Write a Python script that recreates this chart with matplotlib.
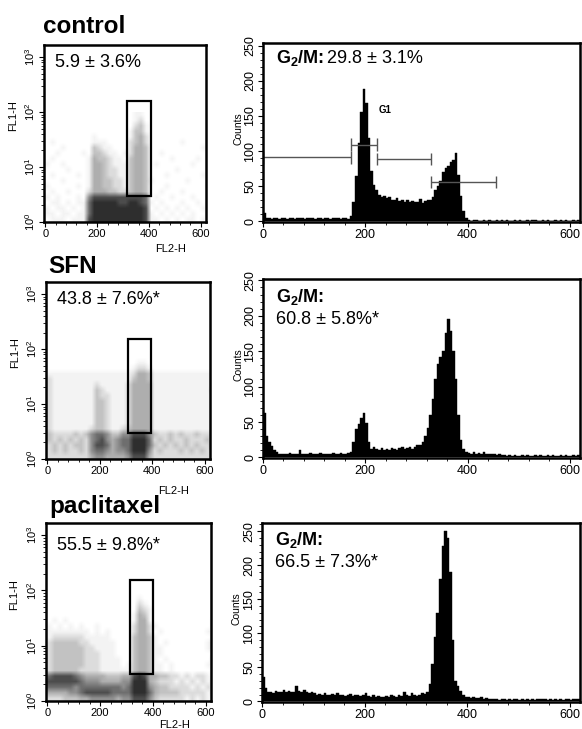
import numpy as np
import matplotlib
matplotlib.use('Agg')
import matplotlib.pyplot as plt
from matplotlib.patches import Rectangle
from matplotlib.ticker import MultipleLocator, LogLocator, NullFormatter, FixedLocator

plt.rcParams['font.family'] = ['Liberation Sans', 'DejaVu Sans']
plt.rcParams['mathtext.fontset'] = 'custom'
plt.rcParams['mathtext.rm'] = 'Liberation Sans'
plt.rcParams['mathtext.bf'] = 'Liberation Sans:bold'
plt.rcParams['mathtext.it'] = 'Liberation Sans:italic'

# ---------------- data ----------------
treatments = ['control', 'SFN', 'paclitaxel']
dot_labels = ['5.9 ± 3.6%', '43.8 ± 7.6%*', '55.5 ± 9.8%*']
g2m_values = ['29.8 ± 3.1%', '60.8 ± 5.8%*', '66.5 ± 7.3%*']

# gate rectangles of dot plots: FL2-H from/to, FL1-H from/to
gate_x0 = [315, 306, 314]
gate_x1 = [408, 396, 400]
gate_y0 = [3.0, 3.0, 3.06]
gate_y1 = [160, 152, 155]

# dot plot density (gray level index 0..8), rows from FL1-H 10^2.0 (top) down to 10^0,
# 0.1 decade per row; columns of 20 FL2-H units from 0 to 640
dots_control = [
    "000000000" "000000" "0" "0110" "000000000000",
    "000000000" "000000" "0" "0120" "000000000000",
    "000000000" "000000" "0" "0231" "000000000000",
    "000000000" "000000" "0" "1331" "000000000000",
    "000000000" "100000" "0" "1342" "000000000000",
    "010000000" "111000" "0" "2342" "000000100000",
    "000100000" "321100" "0" "2443" "000000000010",
    "001000010" "332110" "1" "2443" "001000000000",
    "010000001" "433211" "0" "3443" "000010000100",
    "100100001" "443211" "1" "3443" "010000001000",
    "000010001" "443221" "1" "3443" "000001000000",
    "010000101" "443221" "1" "3443" "000100000010",
    "000100001" "443322" "1" "3443" "100000010000",
    "100000101" "443322" "1" "3443" "000100000001",
    "010010002" "444332" "2" "3443" "001000100000",
    "101000105" "777777" "7" "7776" "010010001000",
    "011010116" "888887" "7" "8876" "101000100101",
    "101101016" "888888" "8" "8887" "010101010010",
    "110110116" "888888" "8" "8887" "101010101001",
    "011101117" "888888" "8" "8887" "110101011010",
]
dots_sfn = [
    "000000000" "000000" "0" "0000" "000000000000",
    "000000000" "000000" "0" "0000" "000000000000",
    "000000000" "000000" "0" "0110" "000000000000",
    "000000000" "000000" "0" "1221" "000000000000",
    "111111111" "111111" "1" "2443" "111111111111",
    "211111111" "111111" "1" "3443" "111111111111",
    "211111111" "211111" "2" "4444" "111111111111",
    "211111111" "321111" "2" "4444" "111111111112",
    "211111111" "322111" "2" "4444" "111111111111",
    "211111111" "332111" "2" "4444" "111111111111",
    "211111111" "332111" "2" "4444" "111111111111",
    "211111111" "332111" "2" "4444" "111111111111",
    "211111111" "332111" "2" "4444" "111111111111",
    "211111111" "332111" "2" "4444" "111111111111",
    "211111112" "332112" "3" "4444" "111111111111",
    "322223235" "665335" "5" "7775" "322323223222",
    "323232325" "675456" "6" "8886" "232322322232",
    "232323325" "776456" "6" "8886" "323232323223",
    "232322325" "665455" "6" "8885" "232223232322",
    "222222224" "554444" "5" "7774" "222222222222",
]
dots_paclitaxel = [
    "000000000" "000000" "0" "0000" "000000000000",
    "000000000" "000000" "0" "0100" "000000000000",
    "000000000" "000000" "0" "0210" "000000000000",
    "000000000" "000000" "0" "0321" "000000000000",
    "000000000" "000000" "0" "1431" "000000000000",
    "010100000" "000000" "0" "1441" "000000000001",
    "101010100" "100000" "0" "2442" "100000000001",
    "111111110" "101000" "0" "2442" "010000000011",
    "122222211" "111000" "0" "3443" "100000000001",
    "233333221" "111100" "0" "3443" "101000000012",
    "233333322" "111100" "0" "3443" "110000000012",
    "233333322" "211100" "0" "3443" "110000000001",
    "233333322" "211110" "0" "3443" "101000000002",
    "233333322" "211110" "1" "3443" "110100000011",
    "233333222" "211111" "1" "3443" "110100000001",
    "677776544" "443334" "4" "7874" "433221212211",
    "777777655" "544445" "5" "8884" "322212121212",
    "666665666" "666665" "6" "8885" "433222212121",
    "444455677" "777666" "6" "8886" "433332222212",
    "222333445" "555545" "5" "7775" "322222121211",
]
gray_levels = [1.0, 0.955, 0.86, 0.76, 0.68, 0.56, 0.43, 0.3, 0.18]

# DNA histograms: counts in FL2-H channels of width 5, starting at 0
hist_control = ([12, 5] +
    [4, 3, 5, 4, 3, 4, 5, 3, 4, 4, 3, 5, 4, 4, 3, 4, 5, 4, 3, 4, 4, 3, 5, 4, 3, 4, 4, 5, 3, 4, 4, 3] +
    [8, 28, 65, 112, 155, 188, 168, 118, 72, 52, 44, 38, 35, 36, 33, 34, 30, 31, 33, 29, 30, 28, 31, 27,
     29, 28, 27, 32, 26, 29, 30, 31, 35, 44, 50, 58, 70, 76, 79, 84, 88, 98, 66, 36, 14, 5] +
    [2, 1, 2, 2, 1, 1, 2, 1, 2, 1, 1, 2, 1, 2, 1, 2, 1, 1, 2, 1, 2, 1, 1, 2, 1, 2, 2, 1, 1, 2, 1, 2, 1, 1,
     2, 1, 2, 1, 2, 1, 1, 2, 1, 2])
hist_sfn = ([62, 30, 22, 16, 10, 7, 5] +
    [5, 4, 5, 6, 4, 5, 5, 10, 5, 4, 5, 6, 5, 4, 5, 6, 5, 4, 5, 5, 6, 4, 5, 6, 5, 5, 6] +
    [8, 22, 40, 47, 55, 62, 48, 22, 12] +
    [14, 12, 11, 13, 10, 12, 11, 13, 12, 11, 13, 14, 12, 13, 15, 12, 14, 17] +
    [17, 22, 30, 42, 60, 82, 110, 132, 142, 150, 175, 196, 178, 150, 110, 60, 25, 12, 7] +
    [6, 5, 7, 5, 6, 5, 7, 5, 4, 5, 4, 3, 4, 3, 3, 2, 3, 2, 3, 2, 2, 3, 2, 3, 2, 2, 3, 2, 3, 2, 2, 3, 2, 3,
     2, 2, 3, 2, 3, 2, 2, 3, 2, 3])
hist_paclitaxel = ([36, 20] +
    [13, 14, 12, 15, 13, 14, 16, 13, 15, 13, 14, 22, 15, 13, 16, 14, 12, 13] +
    [12, 10, 11, 9, 12, 10, 9, 11, 10, 12, 9, 10, 8, 9, 11, 8, 9, 10, 8, 9] +
    [12, 8, 7, 9, 6, 8, 7, 6, 8, 7, 9, 8, 7, 9, 8, 14, 9, 8, 12, 9, 8, 10, 12, 11] +
    [14, 25, 55, 95, 130, 180, 228, 250, 240, 190, 90, 30, 22, 15, 9, 6] +
    [6, 5, 6, 5, 5, 6, 4, 5, 3, 4, 3, 3, 2, 3, 3, 2, 3, 2, 3, 3, 2, 3, 2, 3, 2, 3, 2, 3, 3, 4, 3, 2, 3, 2,
     3, 2, 3, 2, 4, 3, 2, 3, 4, 3])

# cell-cycle marker bars in the control histogram
marker_start = [0, 172, 222, 328]
marker_end = [172, 222, 328, 455]
marker_level = [91, 109, 89, 56]

# ---------------- layout ----------------
W, H = 582, 729
fig = plt.figure(figsize=(W / 100, H / 100), dpi=100)

def rect(l, t, r, b):
    return [l / W, 1 - b / H, (r - l) / W, (b - t) / H]

dot_rects = [(44, 45, 206, 222), (46, 282, 210, 459), (46, 523, 211, 701)]
hist_rects = [(263, 43, 580, 222), (263, 279, 580, 458), (262, 523, 580, 702)]
title_pos = [(43, 33), (48, 273), (49, 513)]
hist_top = [254, 252, 262]
fl2_label_y = [-0.125, -0.15, -0.107]
dot_text_y = [0.9, 0.9, 0.876]
g2m_text_y = [0.89, 0.872, 0.877]
Y_TOP_DECADES = 3.22

dot_grids = [dots_control, dots_sfn, dots_paclitaxel]
hists = [hist_control, hist_sfn, hist_paclitaxel]

first_line_texts = []

for i in range(3):
    # ---- title
    fig.text(title_pos[i][0] / W, 1 - title_pos[i][1] / H, treatments[i],
             fontsize=17.5, fontweight='bold', ha='left', va='baseline')

    # ---- dot plot: density image on a log10-unit axis behind the log axis
    r = rect(*dot_rects[i])
    bg = fig.add_axes(r, zorder=0)
    grid = np.array([[gray_levels[int(c)] for c in row] for row in dot_grids[i]])
    bg.imshow(grid, cmap='gray', vmin=0, vmax=1, extent=(0, 640, 0, 2), origin='upper',
              aspect='auto', interpolation='bilinear')
    bg.set_xlim(-5, 620)
    bg.set_ylim(0, Y_TOP_DECADES)
    bg.axis('off')

    ax = fig.add_axes(r, zorder=1)
    ax.patch.set_alpha(0)
    ax.set_yscale('log')
    ax.set_xlim(-5, 620)
    ax.set_ylim(1, 10 ** Y_TOP_DECADES)
    ax.add_patch(Rectangle((gate_x0[i], gate_y0[i]), gate_x1[i] - gate_x0[i],
                           gate_y1[i] - gate_y0[i], fill=False, ec='black', lw=1.6, zorder=3))
    ax.xaxis.set_major_locator(FixedLocator([0, 200, 400, 600]))
    ax.xaxis.set_minor_locator(MultipleLocator(40))
    ax.yaxis.set_major_locator(LogLocator(base=10, numticks=10))
    ax.yaxis.set_minor_locator(LogLocator(base=10, subs=np.arange(2, 10), numticks=10))
    ax.yaxis.set_minor_formatter(NullFormatter())
    ax.tick_params(axis='both', which='major', labelsize=8, length=3.5, width=0.8, pad=1.5)
    ax.tick_params(axis='both', which='minor', length=2, width=0.6)
    ax.tick_params(axis='y', labelrotation=90)
    for lab in ax.get_yticklabels():
        lab.set_va('center')
    for s in ax.spines.values():
        s.set_linewidth(1.8)
    ax.set_ylabel('FL1-H', fontsize=8, labelpad=0)
    ax.yaxis.set_label_coords(-0.16, 0.6)
    ax.set_xlabel('FL2-H', fontsize=8)
    ax.xaxis.set_label_coords(0.78, fl2_label_y[i])
    ax.text(0.068, dot_text_y[i], dot_labels[i], transform=ax.transAxes,
            fontsize=13, ha='left', va='center', zorder=5)

    # ---- histogram
    hx = fig.add_axes(rect(*hist_rects[i]))
    vals = np.array(hists[i])
    edges = np.arange(0, 5 * len(vals) + 1, 5)
    hx.fill_between(edges, np.append(vals, vals[-1]), 0, step='post', color='black', lw=0.3)
    hx.set_xlim(0, 620)
    hx.set_ylim(-1, hist_top[i])
    hx.xaxis.set_major_locator(FixedLocator([0, 200, 400, 600]))
    hx.xaxis.set_minor_locator(MultipleLocator(40))
    hx.yaxis.set_major_locator(MultipleLocator(50))
    hx.yaxis.set_minor_locator(MultipleLocator(10))
    hx.tick_params(axis='both', which='major', labelsize=9, length=3.5, width=0.8, pad=1.5)
    hx.tick_params(axis='both', which='minor', length=2, width=0.6)
    hx.tick_params(axis='y', labelrotation=90)
    for lab in hx.get_yticklabels():
        lab.set_va('center')
    for s in hx.spines.values():
        s.set_linewidth(1.8)
    hx.set_ylabel('Counts', fontsize=7.5)
    hx.yaxis.set_label_coords(-0.063, 0.52)

    t1 = hx.text(0.04, g2m_text_y[i], r'G$_\mathbf{2}$/M:', transform=hx.transAxes,
                 fontsize=13, fontweight='bold', ha='left', va='baseline')
    if i == 0:
        first_line_texts.append((hx, t1, g2m_values[i]))
        hx.hlines(marker_level, marker_start, marker_end, color='#555555', lw=1.0)
        hx.vlines(marker_start + marker_end, [v - 9 for v in marker_level] * 2,
                  [v + 9 for v in marker_level] * 2, color='#555555', lw=1.0)
        hx.text(226, 158, 'G1', fontsize=7, fontweight='bold', ha='left', va='center')
    else:
        hx.text(0.04, g2m_text_y[i] - 0.121, g2m_values[i], transform=hx.transAxes,
                fontsize=13, ha='left', va='baseline')

# value text placed right after the bold "G2/M:" on the same baseline (control row)
fig.canvas.draw()
for hx, t1, value in first_line_texts:
    bb = t1.get_window_extent()
    x_right = hx.transAxes.inverted().transform((bb.x1, bb.y0))[0]
    hx.text(x_right + 0.012, g2m_text_y[0], value, transform=hx.transAxes,
            fontsize=13, ha='left', va='baseline')

fig.savefig('out.png', dpi=100)
